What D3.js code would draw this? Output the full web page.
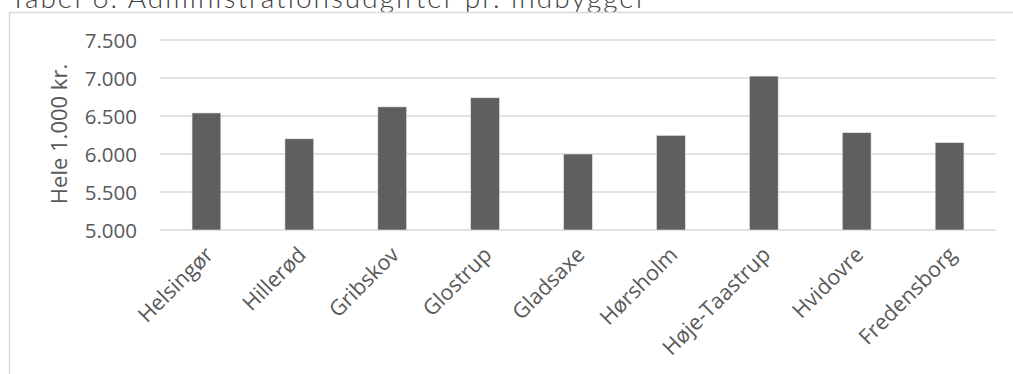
<!DOCTYPE html>
<html>
<head>
<meta charset="utf-8">
<script src="https://cdn.jsdelivr.net/npm/d3@7"></script>
<style>
  html, body { margin: 0; padding: 0; background: #fff; }
  svg { display: block; }
</style>
</head>
<body>
<svg id="chart" width="1013" height="374"></svg>
<script>
const categories = ["Helsingør", "Hillerød", "Gribskov", "Glostrup", "Gladsaxe", "Hørsholm", "Høje-Taastrup", "Hvidovre", "Fredensborg"];
const values = [6540, 6200, 6620, 6740, 6000, 6245, 7025, 6280, 6150];
const yTicks = [5000, 5500, 6000, 6500, 7000, 7500];
const yTickLabels = ["5.000", "5.500", "6.000", "6.500", "7.000", "7.500"];
const titleText = "Tabel 6. Administrationsudgifter pr. indbygger";
const yAxisTitle = "Hele 1.000 kr.";

(function () {
const svg = d3.select("#chart");
const W = 1013, H = 374;
const plotL = 160, plotR = 996, plotT = 40, plotB = 230;

// Title (cut off at top, as in the reference)
svg.append("text")
  .attr("x", 10).attr("y", 8)
  .attr("font-family", "Lato, 'Open Sans', sans-serif")
  .attr("font-weight", 300)
  .attr("font-size", 28)
  .attr("letter-spacing", 2)
  .attr("fill", "#404040")
  .text(titleText);

// Chart frame (left + top border)
svg.append("path")
  .attr("d", `M9.5,${H} V12.5 H${W}`)
  .attr("fill", "none")
  .attr("stroke", "#d9d9d9")
  .attr("stroke-width", 1.5);

const x = d3.scaleBand().domain(categories).range([plotL, plotR]).paddingInner(0.69).paddingOuter(0.345);
const y = d3.scaleLinear().domain([5000, 7500]).range([plotB, plotT]);

// gridlines
svg.append("g").selectAll("line").data(yTicks).join("line")
  .attr("x1", plotL).attr("x2", plotR)
  .attr("y1", d => y(d)).attr("y2", d => y(d))
  .attr("stroke", "#d9d9d9").attr("stroke-width", 1.5);

// y axis
const yAxis = d3.axisLeft(y).tickValues(yTicks).tickFormat((d, i) => yTickLabels[i]).tickSize(0).tickPadding(0);
const gy = svg.append("g").attr("transform", `translate(137,0)`).call(yAxis);
gy.select(".domain").remove();
gy.selectAll("text")
  .attr("font-family", "'Open Sans', sans-serif")
  .attr("font-size", 20.5)
  .attr("fill", "#595959")
  .attr("dy", "0.36em");

// bars
svg.append("g").selectAll("rect").data(values).join("rect")
  .attr("x", (d, i) => x(categories[i]))
  .attr("width", x.bandwidth())
  .attr("y", d => y(d))
  .attr("height", d => y(5000) - y(d))
  .attr("fill", "#5f5f5f")
  .attr("stroke", "#e6e6e6")
  .attr("stroke-width", 0.6);

// x labels
const xAxis = d3.axisBottom(x).tickSize(0).tickPadding(0);
const gx = svg.append("g").attr("transform", `translate(0,${plotB})`).call(xAxis);
gx.select(".domain").remove();
gx.selectAll("text")
  .attr("font-family", "'Open Sans', sans-serif")
  .attr("font-size", 21.5)
  .attr("fill", "#595959")
  .attr("text-anchor", "end")
  .attr("dy", null)
  .attr("y", 0)
  .attr("transform", "translate(4,22) rotate(-45)")
  .attr("dominant-baseline", "middle");

// y axis title
svg.append("text")
  .attr("transform", `translate(67,134) rotate(-90)`)
  .attr("text-anchor", "middle")
  .attr("font-family", "'Open Sans', sans-serif")
  .attr("font-size", 22)
  .attr("fill", "#595959")
  .text(yAxisTitle);
})();
</script>
</body>
</html>
